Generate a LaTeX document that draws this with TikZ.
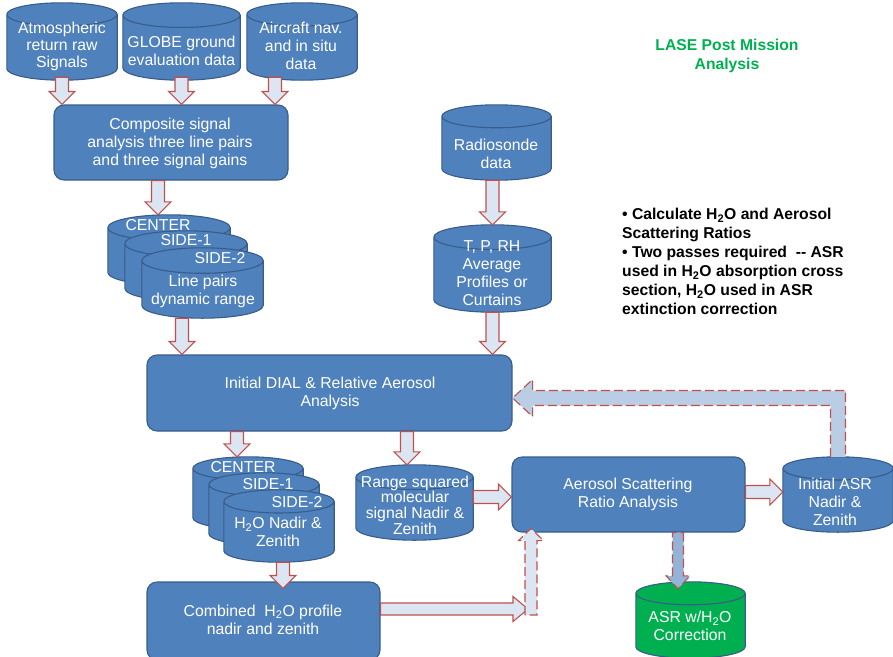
\documentclass[tikz,border=0pt]{standalone}
\usepackage{fontspec}
\setmainfont{Liberation Sans}
\usepackage{tikz}
\usetikzlibrary{calc}

\definecolor{boxblue}{HTML}{4F81BD}
\definecolor{boxline}{HTML}{385D8A}
\definecolor{arrowfill}{HTML}{DCE6F2}
\definecolor{arrowred}{HTML}{C0504D}
\definecolor{loopfill}{HTML}{B9CDE5}
\definecolor{downfill}{HTML}{95B3D7}
\definecolor{lasegreen}{HTML}{00B050}

\newcommand{\nodefont}{\fontsize{15.8}{18}\selectfont}
\newcommand{\notefont}{\fontsize{15.7}{19}\selectfont\bfseries}

% sizes of the block arrows
\tikzset{ba shaft/.store in=\bashaft, ba head/.store in=\bahead, ba len/.store in=\balen,
         ba shaft=6.5pt, ba head=13pt, ba len=13pt}

% block arrow from #2 to #3
\newcommand{\blockarrow}[3][]{%
  \path[#1] #2 coordinate (bas) #3 coordinate (bae);
  \path[#1] ($(bae)!\balen!(bas)$) coordinate (bah);
  \draw[flow,#1] ($(bas)!\bashaft!90:(bae)$) -- ($(bah)!\bashaft!90:(bae)$)
    -- ($(bah)!\bahead!90:(bae)$) -- (bae) -- ($(bah)!\bahead!-90:(bae)$)
    -- ($(bah)!\bashaft!-90:(bae)$) -- ($(bas)!\bashaft!-90:(bae)$) -- cycle;
}

% data store drawn over the box of node #2
\newcommand{\dbdraw}[2][boxblue]{%
  \draw[dbline, fill=#1] let \p1=(#2.north west), \p2=(#2.south east),
      \n1={(\x2-\x1)/2}, \n2={0.105*(\x2-\x1)} in
    (\x1,\y1-\n2) -- (\x1,\y2+\n2)
    arc[start angle=180, end angle=360, x radius=\n1, y radius=\n2]
    -- (\x2,\y1-\n2)
    arc[start angle=0, end angle=180, x radius=\n1, y radius=\n2] -- cycle
    (\x1,\y1-\n2)
    arc[start angle=180, end angle=360, x radius=\n1, y radius=\n2];
}

\begin{document}
\begin{tikzpicture}[x=1pt, y=-1pt,
    proc/.style={draw=boxline, fill=boxblue, line width=1.1pt, rounded corners=10pt},
    db/.style={inner sep=0pt},
    dbline/.style={draw=boxline, line width=1.1pt},
    txt/.style={text=white, align=center, inner sep=0pt, font=\nodefont},
    flow/.style={draw=arrowred, fill=arrowfill, line width=1.1pt, line join=miter},
    dashedflow/.style={dash pattern=on 9pt off 4pt}]

\useasboundingbox (0,0) rectangle (893,656);

% raw inputs
\node[db, minimum width=110pt, minimum height=77pt] (atm) at (62,41.5) {}; \dbdraw{atm}
\node[txt, font=\fontsize{15.8}{17}\selectfont] (atmt) at (62,46.5) {Atmospheric\\return raw\\Signals};
\node[db, minimum width=117pt, minimum height=77pt] (globe) at (181.5,41.5) {}; \dbdraw{globe}
\node[txt] (globet) at (181.5,51) {GLOBE ground\\evaluation data};
\node[db, minimum width=110pt, minimum height=77pt] (nav) at (302,41.5) {}; \dbdraw{nav}
\node[txt] (navt) at (301,46) {Aircraft nav.\\and in situ\\data};

\node[proc, minimum width=234pt, minimum height=75pt] (comp) at (171,142.5) {};
\node[txt] (compt) at (170,143) {Composite signal\\analysis three line pairs\\and three signal gains};

% line pair stack
\node[db, minimum width=122pt, minimum height=70pt] (s1c) at (169,250) {}; \dbdraw{s1c}
\node[txt] (s1ct) at (158,225) {CENTER};
\node[db, minimum width=122pt, minimum height=70pt] (s1a) at (186,266) {}; \dbdraw{s1a}
\node[txt] (s1at) at (186,240) {SIDE-1};
\node[db, minimum width=121pt, minimum height=70pt] (s1b) at (202.5,283) {}; \dbdraw{s1b}
\node[txt] (s1bt) at (220,258) {SIDE-2};
\node[txt] (s1lp) at (203,291) {Line pairs\\dynamic range};

% radiosonde
\node[db, minimum width=109pt, minimum height=75pt] (radio) at (496.5,142.5) {}; \dbdraw{radio}
\node[txt] (radiot) at (496,154) {Radiosonde\\data};
\node[db, minimum width=117pt, minimum height=87pt] (tprh) at (492.5,268.5) {}; \dbdraw{tprh}
\node[txt] (tprht) at (492,273.5) {T, P, RH\\Average\\Profiles or\\Curtains};

\node[proc, minimum width=365pt, minimum height=76pt] (dial) at (329.5,393) {};
\node[txt] (dialt) at (330,393) {Initial DIAL \& Relative Aerosol\\Analysis};

% water vapour stack
\node[db, minimum width=110pt, minimum height=72pt] (s2c) at (248,493) {}; \dbdraw{s2c}
\node[txt] (s2ct) at (243,467) {CENTER};
\node[db, minimum width=110pt, minimum height=72pt] (s2a) at (264,509) {}; \dbdraw{s2a}
\node[txt] (s2at) at (268,484) {SIDE-1};
\node[db, minimum width=110pt, minimum height=72pt] (s2b) at (279,526) {}; \dbdraw{s2b}
\node[txt] (s2bt) at (297,502) {SIDE-2};
\node[txt] (s2h) at (278,532) {H\textsubscript{2}O Nadir \&\\Zenith};

\node[db, minimum width=117pt, minimum height=75pt] (range) at (414.5,502.5) {}; \dbdraw{range}
\node[txt, font=\fontsize{15.8}{15.7}\selectfont] (ranget) at (415,505) {Range squared\\molecular\\signal Nadir \&\\Zenith};

\node[proc, minimum width=233pt, minimum height=75pt] (asr) at (628.5,494.5) {};
\node[txt] (asrt) at (628,494) {Aerosol Scattering\\Ratio Analysis};

\node[db, minimum width=110pt, minimum height=75pt] (iasr) at (838,494.5) {}; \dbdraw{iasr}
\node[txt] (iasrt) at (835,502) {Initial ASR\\Nadir \&\\Zenith};

\node[proc, minimum width=233pt, minimum height=78pt] (comb) at (263.5,621) {};
\node[txt] (combt) at (263,619.5) {Combined\ \ H\textsubscript{2}O profile\\nadir and zenith};

\node[db, minimum width=109pt, minimum height=76pt] (corr) at (690.5,620) {}; \dbdraw[lasegreen]{corr}
\node[txt] (corrt) at (690,626) {ASR w/H\textsubscript{2}O\\Correction};

% notes
\node[text=lasegreen, align=center, inner sep=0pt, font=\notefont] (title) at (727,56) {LASE Post Mission\\Analysis};
\node[anchor=north west, align=left, inner sep=0pt, font=\notefont] (notes) at (622,208) {%
  • Calculate H\textsubscript{2}O and Aerosol\\
  Scattering Ratios\\
  • Two passes required~ -{}- ASR\\
  used in H\textsubscript{2}O absorption cross\\
  section, H\textsubscript{2}O used in ASR\\
  extinction correction};

% data flow
\blockarrow{([yshift=3pt]atm.south)}{(atm.south |- comp.north)}
\blockarrow{([yshift=3pt]globe.south)}{(globe.south |- comp.north)}
\blockarrow{([xshift=-27pt,yshift=3pt]nav.south)}{([xshift=-27pt]nav.south |- comp.north)}
\blockarrow{([xshift=-13pt]comp.south)}{([xshift=-13pt]comp.south |- s1c.north)}
\blockarrow{([xshift=-20.5pt]s1b.south)}{([xshift=-20.5pt]s1b.south |- dial.north)}
\blockarrow{(tprh.north |- radio.south)}{(tprh.north)}
\blockarrow{(tprh.south)}{(tprh.south |- dial.north)}
\blockarrow{([xshift=-11pt]s2c.north |- dial.south)}{([xshift=-11pt]s2c.north)}
\blockarrow{([xshift=-7.5pt]range.north |- dial.south)}{([xshift=-7.5pt]range.north)}
\blockarrow{([xshift=4pt]s2b.south)}{([xshift=4pt,yshift=-7pt]s2b.south |- comb.north)}
\blockarrow{([yshift=5.5pt]range.east)}{([yshift=5.5pt]range.east -| asr.west)}
\blockarrow{([yshift=2.5pt]asr.east)}{([yshift=2.5pt]asr.east -| iasr.west)}
\blockarrow[fill=downfill, dashedflow, ba shaft=5.5pt, ba head=12pt]{([xshift=-12.5pt]corr.north |- asr.south)}{([xshift=-12.5pt,yshift=-7pt]corr.north)}

% second pass
\coordinate (jn) at (528,615);
\blockarrow[ba shaft=6pt, ba head=12.5pt, ba len=15pt]{([yshift=12pt]comb.east)}{([yshift=12pt]comb.east -| jn)}
\blockarrow[dashedflow, ba shaft=6pt, ba head=12.5pt, ba len=12pt]{([xshift=3pt]jn)}{([xshift=3pt,yshift=4pt]jn |- asr.south)}

\coordinate (fb) at ([yshift=-5pt]iasr.north |- dial.east);
\coordinate (fbh) at (dial.east |- fb);
\draw[flow, fill=loopfill, dashedflow] ($(iasr.north)+(-7.5,0)$) -- ($(fb)+(-7.5,7.5)$)
  -- ($(fbh)+(20,7.5)$) -- ($(fbh)+(20,18.5)$) -- (fbh) -- ($(fbh)+(20,-18.5)$)
  -- ($(fbh)+(20,-7.5)$) -- ($(fb)+(7.5,-7.5)$) -- ($(iasr.north)+(7.5,0)$);
\end{tikzpicture}
\end{document}
